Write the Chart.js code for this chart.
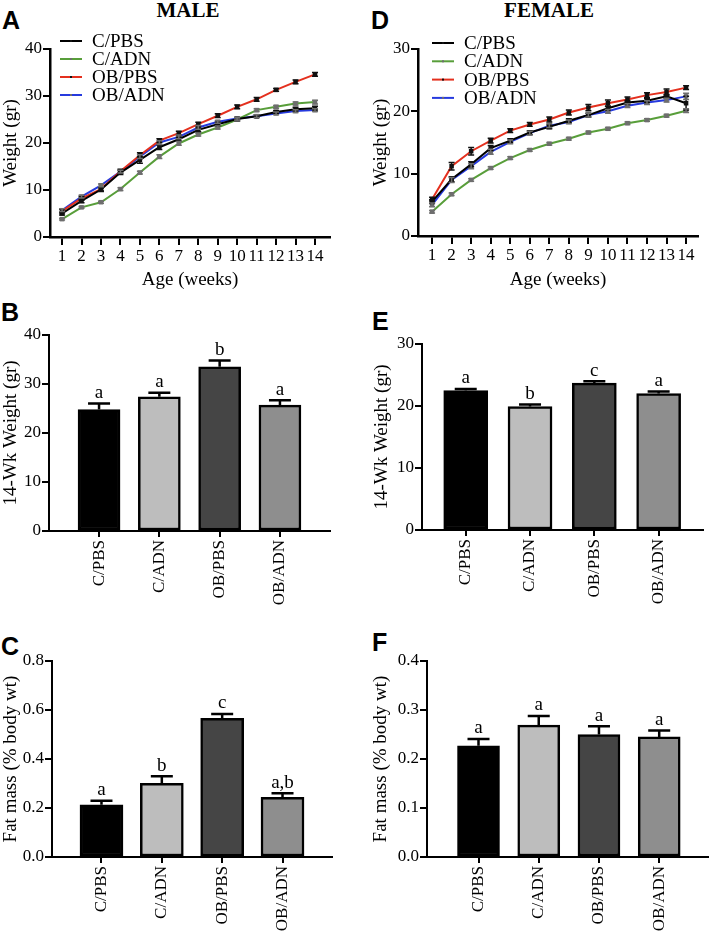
<!DOCTYPE html>
<html>
<head>
<meta charset="utf-8">
<script src="https://cdn.jsdelivr.net/npm/chart.js@4.4.0/dist/chart.umd.min.js"></script>
<style>
    body { margin: 0; background: #fff; }
    #fig { position: relative; width: 710px; height: 938px; overflow: hidden; background: #fff; }
    #fig canvas { position: absolute; }
    .panel-letter { position: absolute; font: bold 25px "Liberation Sans", Arial, sans-serif; line-height: 25px; color: #000; }
    .panel-title { position: absolute; width: 200px; text-align: center; font: bold 21px "Liberation Serif", serif; line-height: 21px; color: #000; }
</style>
</head>
<body>
<div id="fig">
    <div class="panel-title" style="left:88px;top:0px">MALE</div>
    <div class="panel-title" style="left:449px;top:0px">FEMALE</div>
    <div class="panel-letter" style="left:2px;top:8px">A</div>
    <div class="panel-letter" style="left:371px;top:8px">D</div>
    <div class="panel-letter" style="left:1px;top:300px">B</div>
    <div class="panel-letter" style="left:372px;top:309px">E</div>
    <div class="panel-letter" style="left:1px;top:634px">C</div>
    <div class="panel-letter" style="left:372px;top:630px">F</div>

    <canvas id="chart-a" width="345" height="300" style="left:0px;top:0px;width:345px;height:300px"></canvas>
    <canvas id="chart-d" width="355" height="300" style="left:355px;top:0px;width:355px;height:300px"></canvas>
    <canvas id="chart-b" width="345" height="320" style="left:0px;top:300px;width:345px;height:320px"></canvas>
    <canvas id="chart-e" width="355" height="320" style="left:355px;top:300px;width:355px;height:320px"></canvas>
    <canvas id="chart-c" width="345" height="338" style="left:0px;top:600px;width:345px;height:338px"></canvas>
    <canvas id="chart-f" width="355" height="338" style="left:355px;top:600px;width:355px;height:338px"></canvas>
</div>

<script>
// données

const weeks = [1, 2, 3, 4, 5, 6, 7, 8, 9, 10, 11, 12, 13, 14];
const groups = ['C/PBS', 'C/ADN', 'OB/PBS', 'OB/ADN'];

// A - poids mâles (gr)
const maleCPBS  = [5.0, 7.7, 10.1, 13.7, 16.4, 19.1, 20.8, 22.8, 24.0, 25.1, 25.7, 26.6, 27.2, 27.4];
const maleCADN  = [3.8, 6.3, 7.4, 10.2, 13.7, 17.1, 19.9, 21.8, 23.3, 25.0, 27.0, 27.7, 28.4, 28.7];
const maleOBPBS = [5.5, 8.2, 10.2, 14.0, 17.4, 20.5, 22.1, 24.0, 25.8, 27.7, 29.3, 31.3, 33.0, 34.6];
const maleOBADN = [5.7, 8.6, 11.0, 13.9, 17.1, 20.1, 21.3, 23.3, 24.5, 25.2, 25.7, 26.3, 26.8, 27.0];
const maleCPBSErr  = [0.3, 0.4, 0.4, 0.4, 0.7, 0.5, 0.4, 0.4, 0.4, 0.4, 0.3, 0.3, 0.4, 0.4];
const maleCADNErr  = [0.2, 0.2, 0.2, 0.3, 0.3, 0.4, 0.4, 0.3, 0.3, 0.3, 0.3, 0.3, 0.3, 0.4];
const maleOBPBSErr = [0.4, 0.4, 0.4, 0.4, 0.5, 0.4, 0.4, 0.4, 0.4, 0.4, 0.4, 0.3, 0.4, 0.4];
const maleOBADNErr = [0.3, 0.3, 0.3, 0.3, 0.4, 0.4, 0.4, 0.4, 0.3, 0.3, 0.3, 0.3, 0.3, 0.3];

// D - poids femelles (gr)
const femCPBS  = [5.5, 9.1, 11.5, 14.1, 15.3, 16.6, 17.5, 18.5, 19.4, 20.5, 21.4, 21.7, 22.4, 21.3];
const femCADN  = [3.9, 6.7, 9.0, 10.9, 12.5, 13.8, 14.8, 15.6, 16.6, 17.2, 18.1, 18.6, 19.3, 20.1];
const femOBPBS = [5.9, 11.2, 13.6, 15.3, 16.9, 17.9, 18.7, 19.8, 20.6, 21.3, 21.9, 22.6, 23.1, 23.8];
const femOBADN = [5.0, 9.0, 11.2, 13.5, 15.1, 16.5, 17.7, 18.3, 19.4, 20.0, 20.9, 21.4, 21.8, 22.4];
const femCPBSErr  = [0.3, 0.4, 0.4, 0.4, 0.3, 0.3, 0.3, 0.3, 0.3, 0.3, 0.3, 0.3, 0.3, 1.1];
const femCADNErr  = [0.2, 0.2, 0.2, 0.2, 0.2, 0.2, 0.2, 0.2, 0.2, 0.2, 0.2, 0.2, 0.2, 0.3];
const femOBPBSErr = [0.3, 0.6, 0.6, 0.4, 0.3, 0.3, 0.4, 0.4, 0.5, 0.5, 0.4, 0.4, 0.5, 0.3];
const femOBADNErr = [0.3, 0.4, 0.4, 0.4, 0.3, 0.3, 0.3, 0.3, 0.3, 0.3, 0.3, 0.3, 0.3, 0.5];

// B / E - poids à 14 semaines
const maleWk14     = [24.8, 27.4, 33.5, 25.7];
const maleWk14Err  = [1.2, 0.8, 1.3, 1.0];
const maleWk14Sig  = ['a', 'a', 'b', 'a'];
const femWk14      = [22.5, 19.9, 23.7, 22.0];
const femWk14Err   = [0.25, 0.35, 0.3, 0.35];
const femWk14Sig   = ['a', 'b', 'c', 'a'];

// C / F - masse grasse
const maleFat     = [0.213, 0.301, 0.566, 0.244];
const maleFatErr  = [0.017, 0.029, 0.018, 0.016];
const maleFatSig  = ['a', 'b', 'c', 'a,b'];
const femFat      = [0.227, 0.269, 0.250, 0.245];
const femFatErr   = [0.014, 0.019, 0.017, 0.013];
const femFatSig   = ['a', 'a', 'a', 'a'];

// couleurs
const lineColors   = ['#000000', 'rgb(88,158,58)', 'rgb(228,48,30)', 'rgb(38,58,222)'];
const markerColors = ['#111111', '#6e6e6e', '#111111', '#6e6e6e'];
const barColors    = ['#000000', '#bdbdbd', '#454545', '#8e8e8e'];

const SERIF = '"Liberation Serif", "Times New Roman", serif';
Chart.defaults.font.family = SERIF;
Chart.defaults.color = '#000';

function f(size) {
    return { family: SERIF, size: size };
}

// barres d'erreur + lettres de significativité
const errorBarsPlugin = {
    id: 'errorBars',
    afterDatasetsDraw(chart) {
        const ctx = chart.ctx;
        const yScale = chart.scales.y;
        chart.data.datasets.forEach(function(ds, di) {
            if (!ds.errors) return;
            const meta = chart.getDatasetMeta(di);
            meta.data.forEach(function(el, i) {
                const v = ds.data[i].y;
                const e = ds.errors[i];
                const x = el.x;
                const yTop = yScale.getPixelForValue(v + e);
                const yBot = ds.errUpOnly ? el.y : yScale.getPixelForValue(v - e);
                const half = ds.capWidth / 2;
                ctx.save();
                ctx.strokeStyle = ds.errColor;
                ctx.lineWidth = ds.errWidth;
                ctx.beginPath();
                ctx.moveTo(x, yBot);
                ctx.lineTo(x, yTop);
                ctx.moveTo(x - half, yTop);
                ctx.lineTo(x + half, yTop);
                if (!ds.errUpOnly) {
                    ctx.moveTo(x - half, yBot);
                    ctx.lineTo(x + half, yBot);
                }
                ctx.stroke();
                if (ds.letters) {
                    ctx.fillStyle = '#000';
                    ctx.font = '19px ' + SERIF;
                    ctx.textAlign = 'center';
                    ctx.textBaseline = 'bottom';
                    ctx.fillText(ds.letters[i], x, yTop - 1);
                }
                ctx.restore();
            });
        });
    }
};

// petite légende dans le graphe
const miniLegendPlugin = {
    id: 'miniLegend',
    afterDraw(chart, args, opts) {
        if (!opts || opts.x === undefined) return;
        const ctx = chart.ctx;
        chart.data.datasets.forEach(function(ds, i) {
            const y = opts.y + i * opts.rowH;
            ctx.save();
            ctx.strokeStyle = ds.borderColor;
            ctx.lineWidth = 2;
            ctx.beginPath();
            ctx.moveTo(opts.x, y);
            ctx.lineTo(opts.x + opts.len, y);
            ctx.stroke();
            ctx.fillStyle = ds.pointBackgroundColor;
            ctx.fillRect(opts.x + opts.len / 2 - 1, y - 1, 2, 2);
            ctx.fillStyle = '#000';
            ctx.font = '19px ' + SERIF;
            ctx.textAlign = 'left';
            ctx.textBaseline = 'middle';
            ctx.fillText(ds.label, opts.x + opts.len + opts.gap, y + 1);
            ctx.restore();
        });
    }
};

function axisStyle(bw) {
    return {
        grid: { display: true, drawOnChartArea: false, drawTicks: true, offset: false, color: '#000', lineWidth: 2 },
        border: { display: true, color: '#000', width: bw }
    };
}

// fr = {w, h, left, top, right, bottom} : zone du graphe dans le canvas
function lineChart(id, series, errs, yMax, fr, legend, titlePad) {
    const datasets = series.map(function(vals, i) {
        return {
            label: groups[i],
            data: weeks.map(function(w, k) { return { x: w, y: vals[k] }; }),
            errors: errs[i],
            errUpOnly: false,
            capWidth: 6,
            errWidth: 1.5,
            errColor: markerColors[i],
            borderColor: lineColors[i],
            borderWidth: 2,
            pointStyle: 'rect',
            pointRadius: 3.2,
            pointBorderWidth: 0,
            pointBackgroundColor: markerColors[i],
            tension: 0
        };
    });

    const xs = axisStyle(2.5);
    const ys = axisStyle(2.5);

    return new Chart(document.getElementById(id), {
        type: 'line',
        data: { datasets: datasets },
        options: {
            responsive: false,
            animation: false,
            devicePixelRatio: 1,
            layout: { padding: { top: fr.top, right: fr.w - fr.right, left: 0, bottom: 0 } },
            plugins: {
                legend: { display: false },
                tooltip: { enabled: false },
                miniLegend: legend
            },
            scales: {
                x: {
                    type: 'linear',
                    offset: false,
                    min: fr.xMin,
                    max: fr.xMax,
                    grid: Object.assign(xs.grid, { tickLength: 8 }),
                    border: xs.border,
                    afterBuildTicks: function(s) { s.ticks = weeks.map(function(w) { return { value: w }; }); },
                    afterFit: function(s) { s.height = fr.h - fr.bottom; },
                    ticks: { font: f(17), padding: 1, maxRotation: 0, autoSkip: false,
                             callback: function(v) { return String(v); } },
                    title: { display: true, text: 'Age (weeks)', font: f(19), padding: { top: 0, bottom: 9 } }
                },
                y: {
                    min: 0,
                    max: yMax,
                    grid: Object.assign(ys.grid, { tickLength: 7 }),
                    border: ys.border,
                    afterFit: function(s) { s.width = fr.left; },
                    ticks: { stepSize: 10, font: f(17), padding: 1 },
                    title: { display: true, text: 'Weight (gr)', font: f(19), padding: { top: titlePad, bottom: 0 } }
                }
            }
        },
        plugins: [errorBarsPlugin, miniLegendPlugin]
    });
}

function barChart(id, vals, errs, letters, yMax, step, decimals, yTitle, fr, titlePad, barW) {
    const xs = axisStyle(2);
    const ys = axisStyle(2);

    return new Chart(document.getElementById(id), {
        type: 'bar',
        data: {
            datasets: [{
                data: groups.map(function(g, i) { return { x: i + 1, y: vals[i] }; }),
                errors: errs,
                letters: letters,
                errUpOnly: true,
                capWidth: 22,
                errWidth: 2.5,
                errColor: '#000',
                backgroundColor: barColors,
                borderColor: '#000',
                borderWidth: 2.5,
                borderSkipped: false,
                barThickness: barW
            }]
        },
        options: {
            responsive: false,
            animation: false,
            devicePixelRatio: 1,
            layout: { padding: { top: fr.top, right: fr.w - fr.right, left: 0, bottom: 0 } },
            plugins: { legend: { display: false }, tooltip: { enabled: false } },
            scales: {
                x: {
                    type: 'linear',
                    offset: false,
                    min: fr.xMin,
                    max: fr.xMax,
                    grid: Object.assign(xs.grid, { tickLength: 6 }),
                    border: xs.border,
                    afterBuildTicks: function(s) { s.ticks = groups.map(function(g, i) { return { value: i + 1 }; }); },
                    afterFit: function(s) { s.height = fr.h - fr.bottom; },
                    ticks: { font: f(17), padding: 3, minRotation: 90, maxRotation: 90, autoSkip: false,
                             callback: function(v) { return groups[v - 1]; } }
                },
                y: {
                    min: 0,
                    max: yMax,
                    grid: Object.assign(ys.grid, { tickLength: 7 }),
                    border: ys.border,
                    afterFit: function(s) { s.width = fr.left; },
                    ticks: { stepSize: step, font: f(17), padding: 1,
                             callback: function(v) { return Number(v).toFixed(decimals); } },
                    title: { display: true, text: yTitle, font: f(19), padding: { top: titlePad, bottom: 0 } }
                }
            }
        },
        plugins: [errorBarsPlugin]
    });
}

// A
lineChart('chart-a', [maleCPBS, maleCADN, maleOBPBS, maleOBADN],
    [maleCPBSErr, maleCADNErr, maleOBPBSErr, maleOBADNErr], 40,
    { w: 345, h: 300, left: 50, top: 49, right: 330, bottom: 237, xMin: 0.38, xMax: 14.77 },
    { x: 60, y: 41, rowH: 18, len: 22, gap: 10 }, 0);

// D
lineChart('chart-d', [femCPBS, femCADN, femOBPBS, femOBADN],
    [femCPBSErr, femCADNErr, femOBPBSErr, femOBADNErr], 30,
    { w: 355, h: 300, left: 63, top: 49, right: 343, bottom: 236, xMin: 0.28, xMax: 14.61 },
    { x: 77, y: 43, rowH: 18.3, len: 22, gap: 10 }, 14.6);

// B
barChart('chart-b', maleWk14, maleWk14Err, maleWk14Sig, 40, 10, 0, '14-Wk Weight (gr)',
    { w: 345, h: 320, left: 49, top: 35, right: 330, bottom: 231, xMin: 0.17, xMax: 4.83 }, 0, 42);

// E
barChart('chart-e', femWk14, femWk14Err, femWk14Sig, 30, 10, 0, '14-Wk Weight (gr)',
    { w: 355, h: 320, left: 67, top: 44, right: 348, bottom: 230, xMin: 0.32, xMax: 4.69 }, 15.6, 44);

// C
barChart('chart-c', maleFat, maleFatErr, maleFatSig, 0.8, 0.2, 1, 'Fat mass (% body wt)',
    { w: 345, h: 338, left: 52, top: 61, right: 332, bottom: 257, xMin: 0.18, xMax: 4.82 }, 0, 43);

// F
barChart('chart-f', femFat, femFatErr, femFatSig, 0.4, 0.1, 1, 'Fat mass (% body wt)',
    { w: 355, h: 338, left: 72, top: 61, right: 353, bottom: 257, xMin: 0.145, xMax: 4.81 }, 14.6, 42);
</script>
</body>
</html>
